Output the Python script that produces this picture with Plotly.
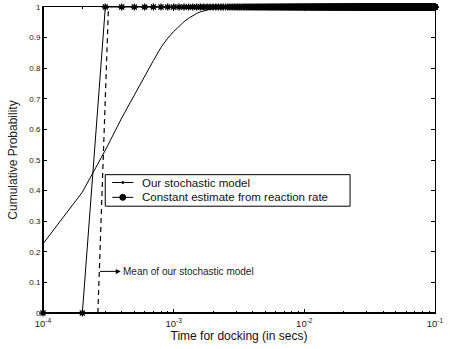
import plotly.graph_objects as go

# Sample grid used by both estimates: t = 1e-4, 2e-4, ..., 1e-1 seconds
t_grid = [k * 1e-4 for k in range(1, 1001)]

# Constant estimate from the reaction rate: a step from 0 to 1
const_est = [0.0, 0.0] + [1.0] * 998

# Our stochastic model: cumulative probability of docking
stoch_t = [1e-4, 2e-4, 3e-4, 4e-4, 5e-4, 6e-4, 7e-4, 8e-4, 9e-4, 1.0e-3,
           1.1e-3, 1.2e-3, 1.3e-3, 1.4e-3, 1.5e-3, 1.6e-3, 1.7e-3, 1.8e-3,
           1.9e-3, 2.0e-3, 2.5e-3, 3.0e-3, 4.0e-3, 1e-2, 1e-1]
stoch_p = [0.226, 0.395, 0.532, 0.637, 0.712, 0.775, 0.825, 0.868, 0.898,
           0.920, 0.938, 0.952, 0.963, 0.972, 0.979, 0.984, 0.988, 0.991,
           0.993, 0.995, 0.998, 0.999, 1.0, 1.0, 1.0]

# Mean docking time of the stochastic model (drawn as a dashed marker line)
mean_t = [2.63e-4, 3.17e-4]
mean_p = [0.0, 1.0]

series_names = ["Our stochastic model", "Constant estimate from reaction rate"]

x_tickvals = [1e-4, 1e-3, 1e-2, 1e-1]
x_ticktext = ["10<sup>-4</sup>", "10<sup>-3</sup>", "10<sup>-2</sup>", "10<sup>-1</sup>"]
x_minor = [m * 10.0 ** e for e in (-4, -3, -2) for m in range(2, 10)]
y_tickvals = [i / 10 for i in range(11)]
y_ticktext = ["0", "0.1", "0.2", "0.3", "0.4", "0.5", "0.6", "0.7", "0.8", "0.9", "1"]

FONT = "Liberation Sans, Arial, Helvetica, sans-serif"

fig = go.Figure()

fig.add_trace(go.Scatter(
    x=stoch_t, y=stoch_p, mode="lines", name=series_names[0],
    line=dict(color="black", width=1),
    showlegend=False,
))

fig.add_trace(go.Scatter(
    x=t_grid, y=const_est, mode="lines+markers", name=series_names[1],
    line=dict(color="black", width=1),
    marker=dict(symbol="asterisk-open", size=6, color="black",
                line=dict(color="black", width=1.3)),
    cliponaxis=False, showlegend=False,
))

fig.add_trace(go.Scatter(
    x=mean_t, y=mean_p, mode="lines", showlegend=False,
    line=dict(color="black", width=1.2, dash="5px,4px"),
))

axis_common = dict(
    showgrid=False, zeroline=False, showline=True, linecolor="black",
    linewidth=1, mirror="ticks", ticks="inside", ticklen=4, tickwidth=1,
    tickcolor="black", ticklabeloverflow="allow",
)

fig.update_xaxes(
    type="log", range=[-4, -1], tickvals=x_tickvals, ticktext=x_ticktext,
    tickfont=dict(family=FONT, size=9.5, color="#222"), ticklabelstandoff=2,
    minor=dict(tickvals=x_minor, ticks="inside", ticklen=2, tickcolor="black"),
    title=dict(text="Time for docking (in secs)",
               font=dict(family=FONT, size=12, color="#111"), standoff=1),
    **axis_common,
)
fig.update_yaxes(
    range=[0, 1], tickvals=y_tickvals, ticktext=y_ticktext,
    tickfont=dict(family=FONT, size=8, color="#222"),
    title=dict(text="Cumulative Probability",
               font=dict(family=FONT, size=12, color="#222"), standoff=9),
    **axis_common,
)

# Heavier left and bottom axis lines
fig.add_shape(type="line", xref="paper", yref="paper", x0=0, x1=0, y0=0, y1=1,
              line=dict(color="black", width=2))
fig.add_shape(type="line", xref="paper", yref="paper", x0=0, x1=1, y0=0, y1=0,
              line=dict(color="black", width=2))

# Legend box drawn in paper coordinates
leg_x0, leg_x1, leg_y0, leg_y1 = 0.1588, 0.7833, 0.349, 0.4521
row_y = [0.4264, 0.378]
sample_x0, sample_x1, text_x = 0.1766, 0.2304, 0.2475
fig.add_shape(type="rect", xref="paper", yref="paper",
              x0=leg_x0, x1=leg_x1, y0=leg_y0, y1=leg_y1,
              line=dict(color="black", width=1), fillcolor="white", layer="above")
marker_px = [2, 6]
for name, ry, mpx in zip(series_names, row_y, marker_px):
    fig.add_shape(type="line", xref="paper", yref="paper",
                  x0=sample_x0, x1=sample_x1, y0=ry, y1=ry,
                  line=dict(color="black", width=1), layer="above")
    xm = (sample_x0 + sample_x1) / 2
    fig.add_shape(type="circle", xref="paper", yref="paper",
                  xsizemode="pixel", ysizemode="pixel", xanchor=xm, yanchor=ry,
                  x0=-mpx / 2, x1=mpx / 2, y0=-mpx / 2, y1=mpx / 2,
                  line=dict(color="black", width=1), fillcolor="black", layer="above")
    fig.add_annotation(x=text_x, y=ry, xref="paper", yref="paper",
                       xanchor="left", yanchor="middle", text=name,
                       showarrow=False,
                       font=dict(family=FONT, size=11.5, color="#111"))

# Arrow and label for the mean
fig.add_annotation(x=-3.405, y=0.136, ax=-3.575, ay=0.136, axref="x", ayref="y",
                   xref="x", yref="y", text="", showarrow=True,
                   arrowhead=2, arrowsize=1, arrowwidth=1, arrowcolor="black")
fig.add_annotation(x=-3.40, y=0.136, xref="x", yref="y", xanchor="left",
                   yanchor="middle", text="Mean of our stochastic model",
                   showarrow=False, font=dict(family=FONT, size=10, color="#222"))

fig.update_layout(
    width=451, height=349,
    margin=dict(l=43, r=16, t=3, b=36),
    paper_bgcolor="white", plot_bgcolor="white",
    font=dict(family=FONT, color="black"),
    showlegend=False,
)

fig.write_html("out.html")
